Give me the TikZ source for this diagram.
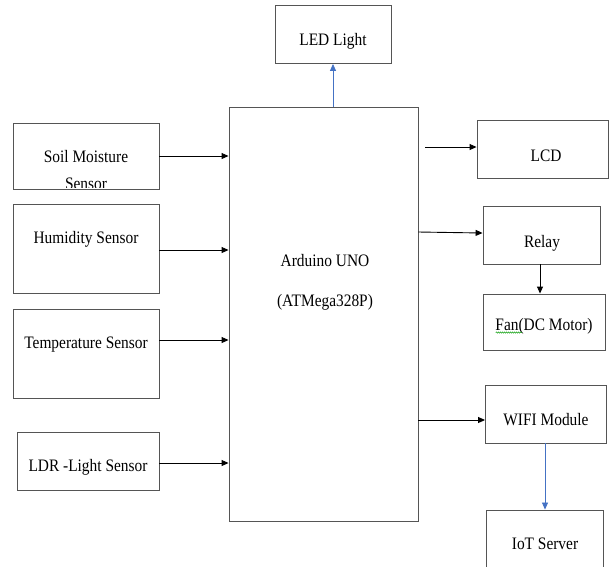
\documentclass[tikz,border=0pt]{standalone}
\usepackage{fontspec}
\setmainfont{Liberation Serif}[FakeStretch=0.88]
\usetikzlibrary{arrows.meta,decorations.pathmorphing}
\definecolor{wordblue}{HTML}{4472C4}
\definecolor{boxgray}{HTML}{555555}
\begin{document}
\begin{tikzpicture}[x=1pt,y=-1pt,
  box/.style={draw=boxgray,line width=0.9pt,rectangle,inner sep=0pt},
  txt/.style={anchor=base,inner sep=0pt,font=\fontsize{17.5}{21}\selectfont},
  arr/.style={draw=black,line width=0.9pt,-{Triangle[length=7pt,width=6pt]}},
  barr/.style={draw=wordblue,line width=0.8pt,-{Triangle[length=7pt,width=6pt]}}]
\useasboundingbox (0,0) rectangle (609,566);
% boxes
\node[box,minimum width=116pt,minimum height=58pt] (led) at (333,34.5) {};
\node[box,minimum width=189pt,minimum height=414pt] (ard) at (323.5,314) {};
\node[box,minimum width=146pt,minimum height=66pt] (soil) at (86,156) {};
\node[box,minimum width=146pt,minimum height=89pt] (hum) at (86,248.5) {};
\node[box,minimum width=146pt,minimum height=89pt] (temp) at (86,353.5) {};
\node[box,minimum width=142pt,minimum height=58pt] (ldr) at (88,461) {};
\node[box,minimum width=131pt,minimum height=58pt] (lcd) at (542.5,149.5) {};
\node[box,minimum width=117pt,minimum height=58pt] (relay) at (541.5,235) {};
\node[box,minimum width=122pt,minimum height=56pt] (fan) at (544.5,322) {};
\node[box,minimum width=121pt,minimum height=58pt] (wifi) at (546,414) {};
\node[box,minimum width=117pt,minimum height=66pt] (iot) at (544.5,543) {};
% texts
\node[txt] (ledT) at (333,45) {LED Light};
\node[txt] (ardT1) at (325,266) {Arduino UNO};
\node[txt] (ardT2) at (325,306) {(ATMega328P)};
\begin{scope}
\clip ([yshift=1pt]soil.north west) rectangle ([yshift=1.5pt]soil.south east);
\node[txt] (soilT1) at (86,162) {Soil Moisture};
\node[txt] (soilT2) at (86,189) {Sensor};
\end{scope}
\node[txt] (humT) at (86,243) {Humidity Sensor};
\node[txt] (tempT) at (86,348) {Temperature Sensor};
\node[txt] (ldrT) at (88,471) {LDR -Light Sensor};
\node[txt] (lcdT) at (546,161) {LCD};
\node[txt] (relayT) at (542,247) {Relay};
\node[txt] (fanT) at (544,330) {Fan(DC Motor)};
\draw[green!60!black,line width=0.5pt,decorate,decoration={snake,amplitude=0.6pt,segment length=2pt}]
  ([xshift=0.5pt,yshift=-2.5pt]fanT.base west) -- ++(26,0);
\node[txt] (wifiT) at (546,425) {WIFI Module};
\node[txt] (iotT) at (545,549) {IoT Server};
% connectors
\coordinate (lcdS) at (425,147);
\draw[barr] (ard.north -| led.south) -- (led.south);
\draw[arr] (soil.east |- 0,156) -- (ard.west |- 0,156);
\draw[arr] (hum.east |- 0,250) -- (ard.west |- 0,250);
\draw[arr] (temp.east |- 0,340) -- (ard.west |- 0,340);
\draw[arr] (ldr.east |- 0,463) -- (ard.west |- 0,463);
\draw[arr] (lcdS) -- (lcdS -| lcd.west);
\draw[arr] (ard.east |- 0,232) -- (relay.west |- 0,233);
\draw[arr] (relay.south -| 540,0) -- (fan.north -| 540,0);
\draw[arr] (ard.east |- 0,420) -- (wifi.west |- 0,420);
\draw[barr] (wifi.south -| 545,0) -- (iot.north -| 545,0);
\end{tikzpicture}
\end{document}
